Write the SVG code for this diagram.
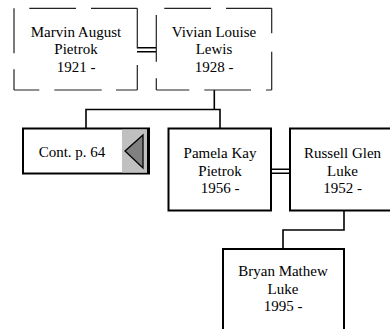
<svg xmlns="http://www.w3.org/2000/svg" width="390" height="329" viewBox="0 0 390 329">
<style>
.t{font-family:'Liberation Serif',Tinos,'Times New Roman','DejaVu Serif',serif;font-size:15px;fill:#000;text-anchor:middle}
.d{stroke:#222;stroke-width:1.2;fill:none}
.b{stroke:#000;stroke-width:2;fill:#fff}
.c{stroke:#000;stroke-width:1.6;fill:none}
</style>
<rect width="390" height="329" fill="#fff"/>
<g id="connectors">
<path class="c" d="M137 47.7H156M137 51.7H156"/>
<path class="c" d="M214.3 90V109.5M86 128V109.5H220V128"/>
<path class="c" d="M271 169.2H290M271 173.2H290"/>
<path class="c" d="M344 210.7V230H283V249"/>
</g>
<g id="marvin">
<path class="d" d="M29.3 8.3H76M91 8.3H137.3M137.3 8.3V48.3M137.3 65V90M137.3 90H116M101.7 90H54.3M39.3 90H14M14 90V69.3M14 53.3V8.3"/>
<text class="t" x="76" y="36.7">Marvin August</text>
<text class="t" x="76" y="54.2">Pietrok</text>
<text class="t" x="76" y="71.7">1921 -</text>
</g>
<g id="vivian">
<path class="d" d="M164.3 8.3H211M226 8.3H271.7M271.7 8.3V33.3M271.7 51.7V90M271.7 90H266M251 90H204.3M189.3 90H156.3M156.3 90V78.3M156.3 61.7V15"/>
<text class="t" x="214" y="36.7">Vivian Louise</text>
<text class="t" x="214" y="54.2">Lewis</text>
<text class="t" x="214" y="71.7">1928 -</text>
</g>
<g id="cont">
<rect class="b" x="23" y="128.5" width="126" height="45"/>
<rect x="122" y="129.5" width="26" height="43" fill="#c0c0c0"/>
<line x1="148.5" y1="128" x2="148.5" y2="174" stroke="#000" stroke-width="3"/>
<path d="M125 151L143 135V168Z" fill="#808080" stroke="#000" stroke-width="1.3"/>
<text class="t" x="72" y="157.3">Cont. p. 64</text>
</g>
<g id="pamela">
<rect class="b" x="168.5" y="128.5" width="102.5" height="82"/>
<text class="t" x="220" y="158.3">Pamela Kay</text>
<text class="t" x="220" y="175.7">Pietrok</text>
<text class="t" x="220" y="192.7">1956 -</text>
</g>
<g id="russell">
<rect class="b" x="290" y="128.5" width="104" height="82"/>
<text class="t" x="342.5" y="158.3">Russell Glen</text>
<text class="t" x="342.5" y="175.7">Luke</text>
<text class="t" x="342.5" y="192.7">1952 -</text>
</g>
<g id="bryan">
<rect class="b" x="223" y="249" width="121" height="90"/>
<text class="t" x="283" y="276">Bryan Mathew</text>
<text class="t" x="283" y="293.5">Luke</text>
<text class="t" x="283" y="311">1995 -</text>
</g>
</svg>
